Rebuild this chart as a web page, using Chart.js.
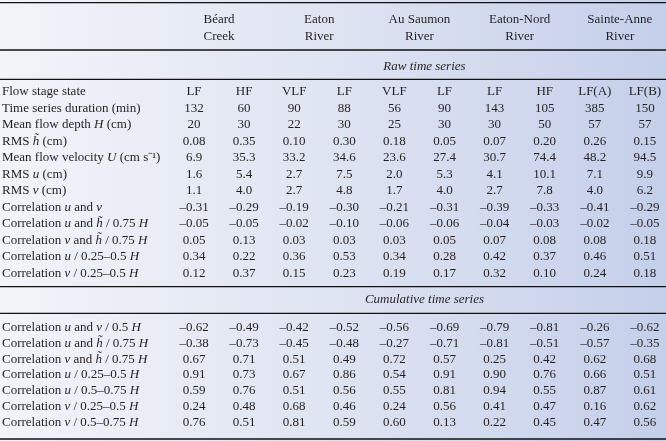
<!DOCTYPE html>
<html>
<head>
<meta charset="utf-8">
<script src="https://cdn.jsdelivr.net/npm/chart.js@4.4.1/dist/chart.umd.min.js"></script>
<style>
  html, body { margin: 0; padding: 0; background: #fff; }
  canvas { display: block; }
</style>
</head>
<body>
<canvas id="tableChart" width="666" height="441"></canvas>
<script>
// River names (two header lines each), two sub-columns per river
const rivers = [['Béard', 'Creek'], ['Eaton', 'River'], ['Au Saumon', 'River'], ['Eaton-Nord', 'River'], ['Sainte-Anne', 'River']];
const flowStates = ['LF', 'HF', 'VLF', 'LF', 'VLF', 'LF', 'LF', 'HF', 'LF(A)', 'LF(B)'];

// Raw time series
const duration = [132, 60, 90, 88, 56, 90, 143, 105, 385, 150];
const meanDepth = [20, 30, 22, 30, 25, 30, 30, 50, 57, 57];
const rmsH = [0.08, 0.35, 0.10, 0.30, 0.18, 0.05, 0.07, 0.20, 0.26, 0.15];
const meanVelocity = [6.9, 35.3, 33.2, 34.6, 23.6, 27.4, 30.7, 74.4, 48.2, 94.5];
const rmsU = [1.6, 5.4, 2.7, 7.5, 2.0, 5.3, 4.1, 10.1, 7.1, 9.9];
const rmsV = [1.1, 4.0, 2.7, 4.8, 1.7, 4.0, 2.7, 7.8, 4.0, 6.2];
const corrUV = [-0.31, -0.29, -0.19, -0.30, -0.21, -0.31, -0.39, -0.33, -0.41, -0.29];
const corrUH = [-0.05, -0.05, -0.02, -0.10, -0.06, -0.06, -0.04, -0.03, -0.02, -0.05];
const corrVH = [0.05, 0.13, 0.03, 0.03, 0.03, 0.05, 0.07, 0.08, 0.08, 0.18];
const corrU25 = [0.34, 0.22, 0.36, 0.53, 0.34, 0.28, 0.42, 0.37, 0.46, 0.51];
const corrV25 = [0.12, 0.37, 0.15, 0.23, 0.19, 0.17, 0.32, 0.10, 0.24, 0.18];

// Cumulative time series
const cumUV = [-0.62, -0.49, -0.42, -0.52, -0.56, -0.69, -0.79, -0.81, -0.26, -0.62];
const cumUH = [-0.38, -0.73, -0.45, -0.48, -0.27, -0.71, -0.81, -0.51, -0.57, -0.35];
const cumVH = [0.67, 0.71, 0.51, 0.49, 0.72, 0.57, 0.25, 0.42, 0.62, 0.68];
const cumU25 = [0.91, 0.73, 0.67, 0.86, 0.54, 0.91, 0.90, 0.76, 0.66, 0.51];
const cumU50 = [0.59, 0.76, 0.51, 0.56, 0.55, 0.81, 0.94, 0.55, 0.87, 0.61];
const cumV25 = [0.24, 0.48, 0.68, 0.46, 0.24, 0.56, 0.41, 0.47, 0.16, 0.62];
const cumV50 = [0.76, 0.51, 0.81, 0.59, 0.60, 0.13, 0.22, 0.45, 0.47, 0.56];

const sectionTitles = ['Raw time series', 'Cumulative time series'];

// label (_..._ = italic), values, decimals
const rawRows = [
  ['Flow stage state', flowStates, null],
  ['Time series duration (min)', duration, 0],
  ['Mean flow depth _H_ (cm)', meanDepth, 0],
  ['RMS _h̃_ (cm)', rmsH, 2],
  ['Mean flow velocity _U_ (cm s⁻¹)', meanVelocity, 1],
  ['RMS _u_ (cm)', rmsU, 1],
  ['RMS _v_ (cm)', rmsV, 1],
  ['Correlation _u_ and _v_', corrUV, 2],
  ['Correlation _u_ and _h̃_ / 0.75 _H_', corrUH, 2],
  ['Correlation _v_ and _h̃_ / 0.75 _H_', corrVH, 2],
  ['Correlation _u_ / 0.25–0.5 _H_', corrU25, 2],
  ['Correlation _v_ / 0.25–0.5 _H_', corrV25, 2]
];
const cumRows = [
  ['Correlation _u_ and _v_ / 0.5 _H_', cumUV, 2],
  ['Correlation _u_ and _h̃_ / 0.75 _H_', cumUH, 2],
  ['Correlation _v_ and _h̃_ / 0.75 _H_', cumVH, 2],
  ['Correlation _u_ / 0.25–0.5 _H_', cumU25, 2],
  ['Correlation _u_ / 0.5–0.75 _H_', cumU50, 2],
  ['Correlation _v_ / 0.25–0.5 _H_', cumV25, 2],
  ['Correlation _v_ / 0.5–0.75 _H_', cumV50, 2]
];

// layout (row units, 1 unit = one table row)
const ROW_PX = 16.5;
const cumOffset = 14.27;
const cumStep = 0.96;
const FONT = '"Liberation Serif", "Times New Roman", serif';
const INK = '#231f20';

const allRows = rawRows.map((r, i) => ({ r, pos: i }))
  .concat(cumRows.map((r, i) => ({ r, pos: cumOffset + i * cumStep })));

const fmt = (v, d) => d === null ? String(v) : v.toFixed(d).replace('-', '–');

const datasets = allRows.map(({ r, pos }) => ({
  label: r[0],
  data: r[1].map((v, i) => ({ x: i, y: pos, text: fmt(v, r[2]) })),
  pointRadius: 0,
  showLine: false
}));

function drawRich(ctx, str, x, y) {
  const parts = str.split('_');
  parts.forEach((p, i) => {
    ctx.font = (i % 2 ? 'italic ' : '') + '13px ' + FONT;
    ctx.fillText(p, x, y);
    x += ctx.measureText(p).width;
  });
}

const tablePlugin = {
  id: 'tablePlugin',
  beforeDraw(chart) {
    const { ctx, width, height } = chart;
    const g = ctx.createLinearGradient(0, 0, width, 0);
    g.addColorStop(0, '#f2f4f9');
    g.addColorStop(0.5, '#dfe4f2');
    g.addColorStop(1, '#c4cfea');
    ctx.save();
    ctx.fillStyle = g;
    ctx.fillRect(0, 0, width, height);
    ctx.restore();
  },
  afterDatasetsDraw(chart) {
    const { ctx, width } = chart;
    const xs = chart.scales.x;
    ctx.save();
    ctx.fillStyle = INK;
    ctx.textBaseline = 'middle';

    // rules
    ctx.strokeStyle = '#111';
    ctx.lineWidth = 1.3;
    [2.7, 50, 79.3, 286.7, 313.3, 439].forEach(y => {
      ctx.beginPath(); ctx.moveTo(0, y); ctx.lineTo(width, y); ctx.stroke();
    });

    // river headers
    ctx.font = '13px ' + FONT;
    ctx.textAlign = 'center';
    rivers.forEach((lines, g) => {
      const cx = xs.getPixelForValue(g * 2 + 0.5);
      ctx.fillText(lines[0], cx, 19.5);
      ctx.fillText(lines[1], cx, 36.5);
    });

    // section titles
    ctx.font = 'italic 13px ' + FONT;
    const midX = xs.getPixelForValue(4.6);
    ctx.fillText(sectionTitles[0], midX, 67);
    ctx.fillText(sectionTitles[1], midX, 300);

    // cells
    chart.data.datasets.forEach((ds, di) => {
      const meta = chart.getDatasetMeta(di);
      ctx.textAlign = 'left';
      drawRich(ctx, ds.label, 2, meta.data[0].y);
      ctx.font = '13px ' + FONT;
      ctx.textAlign = 'center';
      meta.data.forEach((pt, j) => ctx.fillText(ds.data[j].text, pt.x, pt.y));
    });
    ctx.restore();
  }
};

const colPx = 50.1, firstColPx = 194, firstRowPx = 92;
new Chart(document.getElementById('tableChart').getContext('2d'), {
  type: 'scatter',
  data: { datasets },
  options: {
    responsive: false,
    animation: false,
    layout: { padding: 0 },
    plugins: { legend: { display: false }, tooltip: { enabled: false } },
    scales: {
      x: { type: 'linear', display: false, min: -firstColPx / colPx, max: (666 - firstColPx) / colPx },
      y: { type: 'linear', display: false, reverse: true, min: -firstRowPx / ROW_PX, max: (441 - firstRowPx) / ROW_PX }
    }
  },
  plugins: [tablePlugin]
});
</script>
</body>
</html>
